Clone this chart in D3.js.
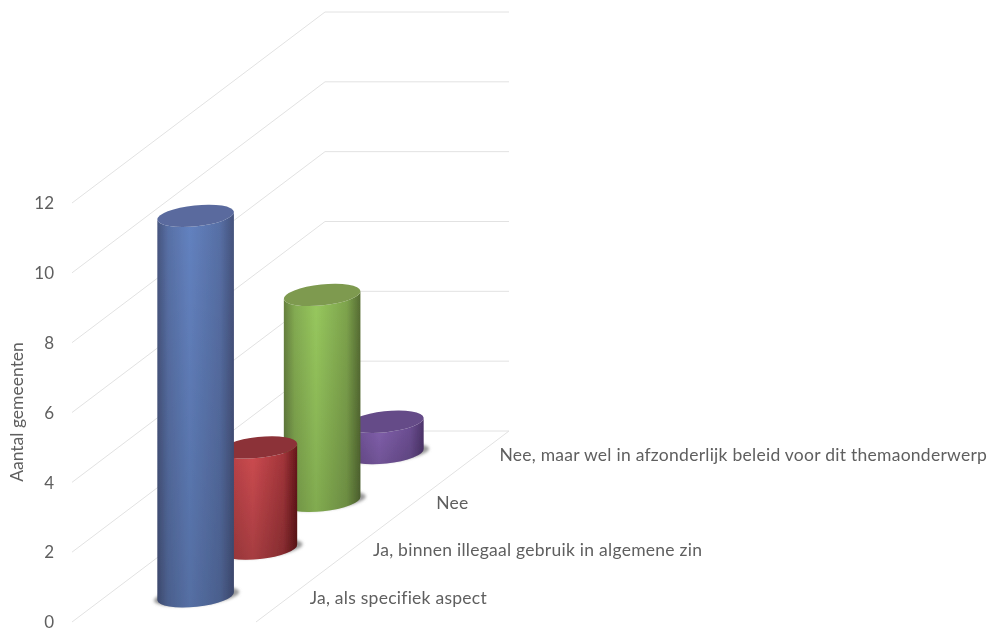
<!DOCTYPE html>
<html><head><meta charset="utf-8">
<script src="https://cdn.jsdelivr.net/npm/d3@7"></script>
<style>html,body{margin:0;padding:0;background:#fff}svg{display:block}text{font-family:Lato,sans-serif;fill:#5f5f5f}</style>
</head><body><svg id="c" width="990" height="630"></svg>
<script>
const categories = ["Ja, als specifiek aspect","Ja, binnen illegaal gebruik in algemene zin","Nee","Nee, maar wel in afzonderlijk beleid voor dit themaonderwerp"];
const values = [11,3,6,1];
const yTicks = [0,2,4,6,8,10,12];
const axisTitle = "Aantal gemeenten";
const sideEdge = ["#47557f","#9a3338","#66803f","#5a4079"];
const sideEdgeR = ["#45527c","#66161a","#566c33","#4e356c"];
const sideMid = ["#6382c0","#cf4c51","#98c95e","#8462b0"];
const topFill = ["#5a6b9e","#8c3237","#7e9a50","#654b88"];

const svg = d3.select("#c"), defs = svg.append("defs");
const f0 = {x:72,y:622}, depthV = {x:253,y:-191}, floorW = 184;
const y = d3.scaleLinear().domain([0,12]).range([0,-419]);
const depth = d3.scaleBand().domain(categories).range([0,1]);
const pt = (u,d,v=0)=>[f0.x+u*floorW+d*depthV.x, f0.y+d*depthV.y+y(v)];

const blur = defs.append("filter").attr("id","soft").attr("x","-10%").attr("y","-10%").attr("width","120%").attr("height","120%");
blur.append("feGaussianBlur").attr("stdDeviation",0.5);
const blur2 = defs.append("filter").attr("id","sh").attr("x","-20%").attr("y","-50%").attr("width","140%").attr("height","200%");
blur2.append("feGaussianBlur").attr("stdDeviation",1.5);
const blur3 = defs.append("filter").attr("id","tx").attr("x","-5%").attr("y","-20%").attr("width","110%").attr("height","140%");
blur3.append("feGaussianBlur").attr("stdDeviation",0.3);

// grid
const grid = svg.append("g").attr("fill","none").attr("stroke","#e2e2e2").attr("stroke-width",1);
yTicks.forEach(t=>{
  const a=pt(0,0,t), b=pt(0,1,t), c=pt(1,1,t);
  grid.append("polyline").attr("points",[a,b,c].join(" "));
});
grid.append("line").attr("x1",pt(1,0)[0]).attr("y1",pt(1,0)[1]).attr("x2",pt(1,1)[0]).attr("y2",pt(1,1)[1]);

// axis labels
const axis = d3.axisLeft(d3.scaleLinear().domain([0,12]).range([f0.y,f0.y-419])).tickValues(yTicks).tickSize(0).tickPadding(0);
const ag = svg.append("g").attr("transform","translate(54,0)").attr("filter","url(#tx)").call(axis);
ag.select(".domain").remove();
ag.selectAll("text").style("font-size","17px").style("font-family","Lato,sans-serif").style("fill","#5f5f5f").attr("dy","0.34em").attr("x",0);

svg.append("text").attr("transform","translate(23,412) rotate(-90)").attr("text-anchor","middle").attr("filter","url(#tx)").style("font-size","17.5px").text(axisTitle);

// cylinders, back to front
const rx=38.5, ry=10.5, rot=-6, cs=Math.cos(rot*Math.PI/180), sn=Math.sin(-rot*Math.PI/180), inset=1.8;
const marks = svg.append("g").attr("filter","url(#soft)");
d3.range(categories.length-1,-1,-1).forEach(i=>{
  const d = depth(categories[i])+depth.bandwidth()/2;
  const [cx,by0] = pt(0.5,d,0);
  const by = by0-inset, ty = pt(0.5,d,values[i])[1]+inset;
  const mixL = d3.interpolateRgb(sideEdge[i],sideMid[i])(0.6), mixR = d3.interpolateRgb(sideEdgeR[i],sideMid[i])(0.6);
  const g = defs.append("linearGradient").attr("id","g"+i).attr("x1","0").attr("x2","1").attr("y1","0").attr("y2","0");
  [[0,sideEdge[i]],[0.14,mixL],[0.42,sideMid[i]],[0.82,mixR],[1,sideEdgeR[i]]].forEach(s=>g.append("stop").attr("offset",s[0]).attr("stop-color",s[1]));
  const vg = defs.append("linearGradient").attr("id","v"+i).attr("x1","0").attr("x2","0").attr("y1","0").attr("y2","1");
  vg.append("stop").attr("offset",0).attr("stop-color","#000").attr("stop-opacity",0);
  vg.append("stop").attr("offset",1).attr("stop-color","#000").attr("stop-opacity",i===1?0.2:0.15);
  // shadow
  marks.append("ellipse").attr("cx",cx+1).attr("cy",by).attr("rx",rx+4.5).attr("ry",ry-1.5)
    .attr("transform",`rotate(${rot} ${cx} ${by})`).attr("fill","#9a9a9a").attr("filter","url(#sh)");
  const side = `M${cx-rx*cs},${ty+rx*sn}L${cx-rx*cs},${by+rx*sn}A${rx},${ry} ${rot} 0 0 ${cx+rx*cs},${by-rx*sn}L${cx+rx*cs},${ty-rx*sn}A${rx},${ry} ${rot} 0 1 ${cx-rx*cs},${ty+rx*sn}Z`;
  marks.append("path").attr("d",side).attr("fill",`url(#g${i})`);
  marks.append("path").attr("d",side).attr("fill",`url(#v${i})`);
  marks.append("ellipse").attr("cx",cx).attr("cy",ty).attr("rx",rx).attr("ry",ry)
    .attr("transform",`rotate(${rot} ${cx} ${ty})`).attr("fill",topFill[i]);
});

// category labels
svg.append("g").attr("filter","url(#tx)").selectAll("text").data(categories).join("text")
  .attr("x",c=>pt(1,depth(c)+depth.bandwidth()/2)[0]+22)
  .attr("y",c=>pt(1,depth(c)+depth.bandwidth()/2)[1]+6)
  .style("font-size","17.5px").style("letter-spacing","0.26px").text(c=>c);
</script></body></html>
